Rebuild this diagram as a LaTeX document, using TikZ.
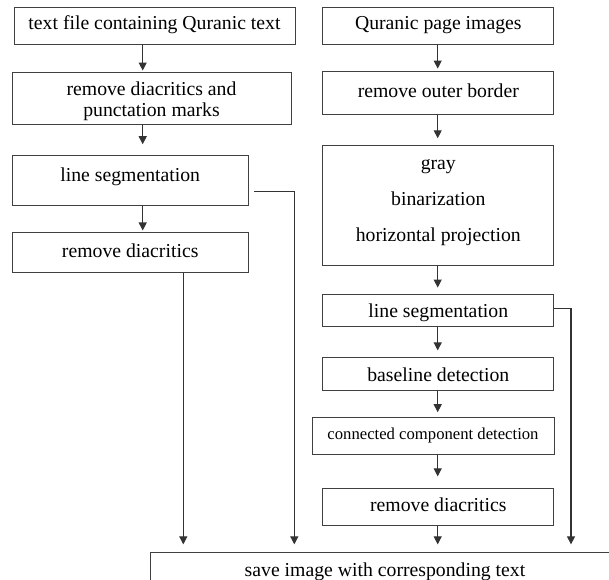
\documentclass[tikz,border=0pt]{standalone}
\usepackage{fontspec}
\setmainfont{Liberation Serif}
\usetikzlibrary{arrows.meta}
\begin{document}
\begin{tikzpicture}[x=0.75pt,y=-0.75pt,
  box/.style={draw=black!75, line width=0.75pt, rectangle, inner sep=0pt, align=center,
    text height=13.7pt, text depth=3pt, font=\fontsize{14.8}{15.75}\selectfont},
  mbox/.style={draw=black!75, line width=0.75pt, rectangle, inner sep=0pt, align=center,
    font=\fontsize{14.8}{15.75}\selectfont},
  arr/.style={draw=black!80, line width=0.8pt, -{Triangle[width=6pt,length=6pt]}},
  ln/.style={draw=black!80, line width=0.8pt}]
\clip (0,0) rectangle (609,580);
\fill[white] (0,0) rectangle (609,580);
% left column
\node[box, minimum width=281*0.75pt, minimum height=37*0.75pt, text depth=7.5pt] (b1) at (154.5,25.7) {text file containing Quranic text};
\node[mbox, minimum width=279*0.75pt, minimum height=52*0.75pt] (b2) at (151.5,98.8) {\rule{0pt}{13.5pt}remove diacritics and\\punctation marks};
\node[box, minimum width=236*0.75pt, minimum height=50*0.75pt, text depth=12.6pt] (b3) at (130.2,180.4) {line segmentation};
\node[box, minimum width=236*0.75pt, minimum height=40*0.75pt, text depth=7.5pt] (b4) at (130.2,253) {remove diacritics};
% right column
\node[box, minimum width=231*0.75pt, minimum height=37*0.75pt, text depth=7.5pt] (b5) at (438.3,25.7) {Quranic page images};
\node[box, minimum width=231*0.75pt, minimum height=43*0.75pt, text depth=8pt] (b6) at (438.3,93.5) {remove outer border};
\node[mbox, minimum width=231*0.75pt, minimum height=120*0.75pt] (b7) at (438.3,205.7) {\rule{0pt}{12pt}gray\\[11.25pt]binarization\\[11.25pt]horizontal projection\\[-4.15pt]\mbox{}};
\node[box, minimum width=231*0.75pt, minimum height=31*0.75pt] (b8) at (438.3,310.5) {line segmentation};
\node[box, minimum width=231*0.75pt, minimum height=32.3*0.75pt] (b9) at (438.3,374) {baseline detection};
\node[box, minimum width=242*0.75pt, minimum height=37*0.75pt, text depth=7.2pt, font=\fontsize{12.5}{15}\selectfont] (b10) at (433,435.5) {connected component detection};
\node[box, minimum width=231*0.75pt, minimum height=37.6*0.75pt, text depth=7.5pt] (b11) at (438.3,507) {remove diacritics};
\node[box, minimum width=470*0.75pt, minimum height=34*0.75pt] (save) at (385,569.6) {save image with corresponding text};
% helper coordinates
\coordinate (xl) at (142.7,0);
\coordinate (xr) at (437.7,0);
\coordinate (x4) at (183.3,0);
\coordinate (c3) at (294.3,191.7);
\coordinate (c8) at (571,308.3);
% arrows left
\draw[arr, shorten >=1.3pt] (b1.south -| xl) -- (b2.north -| xl);
\draw[arr, shorten >=8pt] (b2.south -| xl) -- (b3.north -| xl);
\draw[arr, shorten >=1.5pt] (b3.south -| xl) -- (b4.north -| xl);
\draw[arr, shorten >=5.8pt] (b4.south -| x4) -- (save.north -| x4);
\draw[arr, shorten <=4.2pt, shorten >=5.8pt] (b3.east |- c3) -- (c3) -- (save.north -| c3);
% arrows right
\draw[arr, shorten >=2.2pt] (b5.south -| xr) -- (b6.north -| xr);
\draw[arr, shorten >=5.2pt] (b6.south -| xr) -- (b7.north -| xr);
\draw[arr, shorten >=5.2pt] (b7.south -| xr) -- (b8.north -| xr);
\draw[arr, shorten >=5.2pt] (b8.south -| xr) -- (b9.north -| xr);
\draw[arr, shorten >=3.2pt] (b9.south -| xr) -- (b10.north -| xr);
\draw[arr, shorten >=8.5pt] (b10.south -| xr) -- (b11.north -| xr);
\draw[arr, shorten >=5.8pt] (b11.south -| xr) -- (save.north -| xr);
\draw[arr, shorten >=5.8pt] (b8.east |- c8) -- (c8) -- (save.north -| c8);
\end{tikzpicture}
\end{document}
